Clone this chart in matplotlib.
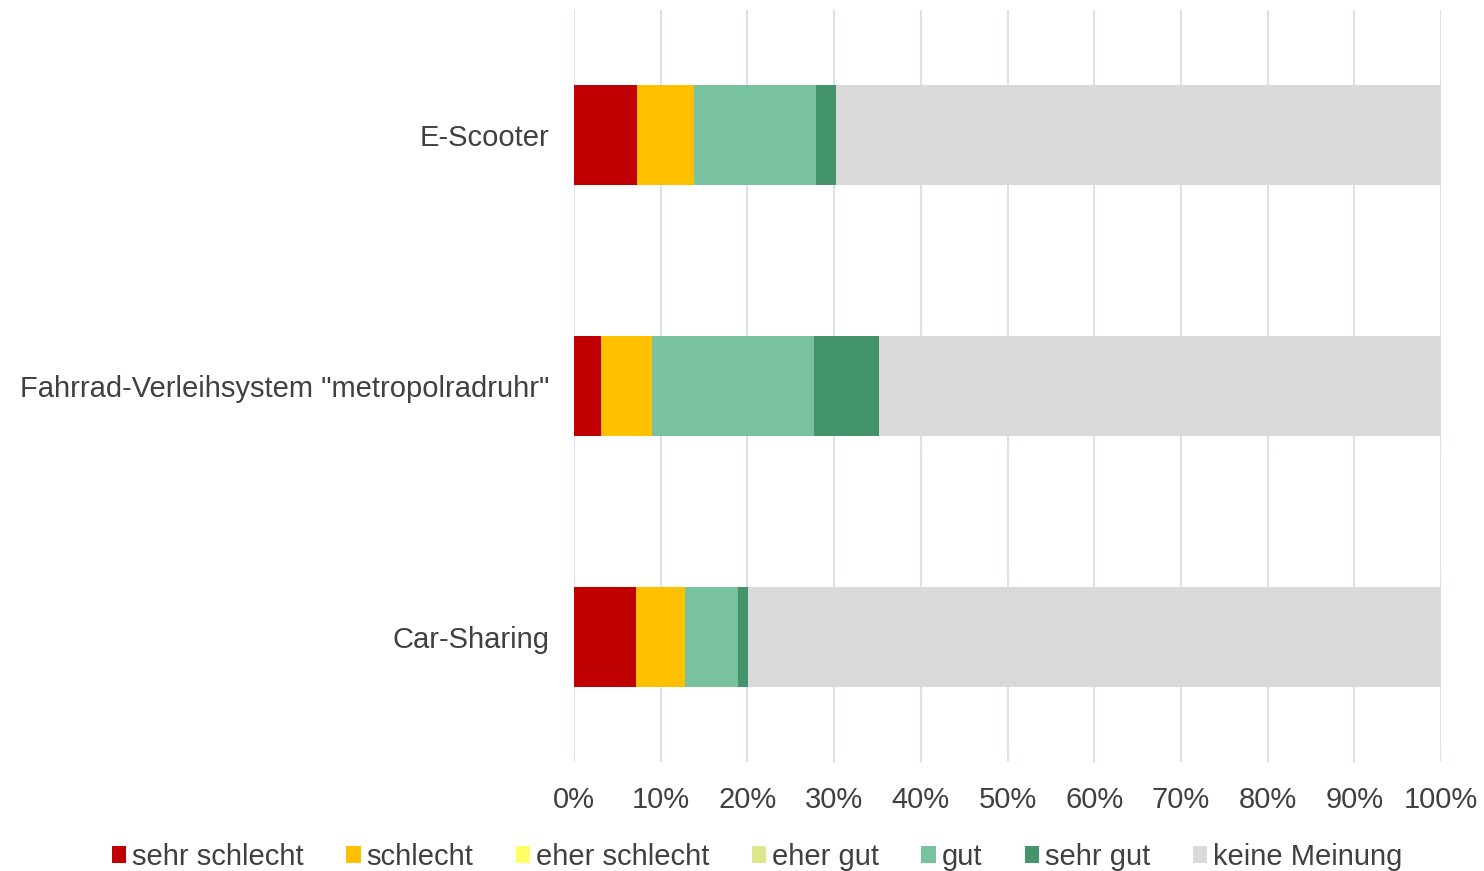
import matplotlib
matplotlib.use("Agg")
import matplotlib.pyplot as plt
import numpy as np

plt.rcParams['font.family'] = ['Liberation Sans', 'DejaVu Sans']

categories = ['E-Scooter', 'Fahrrad-Verleihsystem "metropolradruhr"', 'Car-Sharing']
series_names = ['sehr schlecht', 'schlecht', 'eher schlecht', 'eher gut', 'gut', 'sehr gut', 'keine Meinung']
sehr_schlecht = [7.3, 3.1, 7.2]
schlecht = [6.5, 5.9, 5.6]
eher_schlecht = [0.0, 0.0, 0.0]
eher_gut = [0.0, 0.0, 0.0]
gut = [14.1, 18.7, 6.1]
sehr_gut = [2.3, 7.5, 1.2]
keine_meinung = [69.8, 64.8, 79.9]
colors = ['#C00000', '#FFC000', '#FFFF66', '#DDE68A', '#78C2A0', '#43936B', '#D9D9D9']
ticks = [0, 10, 20, 30, 40, 50, 60, 70, 80, 90, 100]
tick_labels = [f'{t}%' for t in ticks]

values = [sehr_schlecht, schlecht, eher_schlecht, eher_gut, gut, sehr_gut, keine_meinung]

fig = plt.figure(figsize=(14.84, 8.71), dpi=100)
ax = fig.add_axes([574/1484, 1-762/871, (1441-574)/1484, (762-10)/871])

y = np.arange(len(categories))[::-1]
left = np.zeros(len(categories))
for name, vals, c in zip(series_names, values, colors):
    v = np.array(vals)
    ax.barh(y, v, left=left, height=0.4, color=c, label=name, zorder=3)
    left += v

ax.set_xlim(0, 100)
ax.set_ylim(-0.5, 2.5)
ax.set_xticks(ticks)
ax.set_xticklabels(tick_labels, fontsize=21, color='#404040')
ax.set_yticks(y)
ax.set_yticklabels(categories, fontsize=21, color='#404040')
ax.tick_params(axis='x', length=0, pad=17)
ax.tick_params(axis='y', length=0, pad=18)
ax.grid(axis='x', color='#D6DEF0', linewidth=1.3, zorder=0)
for s in ax.spines.values():
    s.set_visible(False)

handles, labels = ax.get_legend_handles_labels()
fig.legend(handles, labels, loc='center', bbox_to_anchor=(757/1484, 1-857/871), ncol=7,
           frameon=False, fontsize=21, handlelength=0.5, handleheight=0.5,
           handletextpad=0.2, columnspacing=1.45, labelcolor='#404040')

fig.savefig('out.png', dpi=100)
